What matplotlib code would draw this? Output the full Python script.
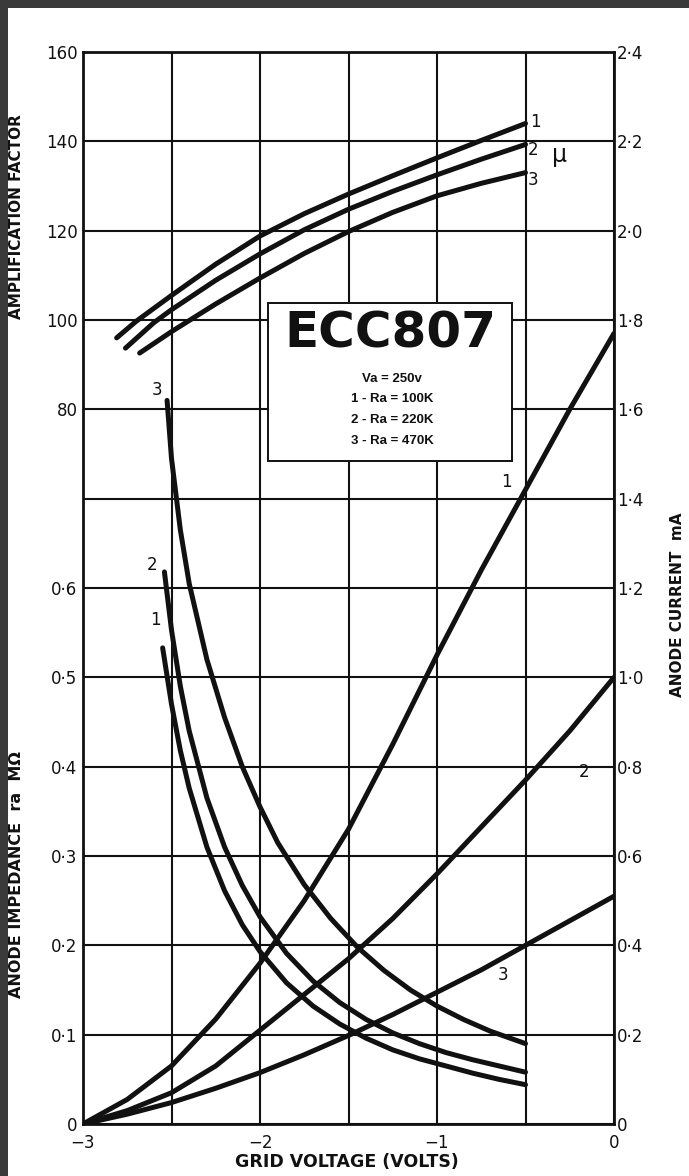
import matplotlib
matplotlib.use("Agg")
import matplotlib.pyplot as plt
from matplotlib.patches import Rectangle

# ---------------- data ----------------
# Amplification factor (mu) curves, left upper scale
mu1_x = [-2.81, -2.7, -2.5, -2.25, -2.0, -1.75, -1.5, -1.25, -1.0, -0.75, -0.5]
mu1_y = [96.0, 99.7, 105.5, 112.5, 118.8, 123.8, 128.2, 132.3, 136.3, 140.2, 144.0]
mu2_x = [-2.76, -2.6, -2.5, -2.25, -2.0, -1.75, -1.5, -1.25, -1.0, -0.75, -0.5]
mu2_y = [93.7, 99.4, 102.3, 108.9, 114.8, 120.2, 124.8, 128.8, 132.5, 136.0, 139.3]
mu3_x = [-2.68, -2.5, -2.25, -2.0, -1.75, -1.5, -1.25, -1.0, -0.75, -0.5]
mu3_y = [92.6, 97.4, 103.6, 109.4, 114.9, 119.8, 124.1, 127.8, 130.6, 133.0]

# Anode impedance ra (MOhm), left lower scale
ra1_x = [-2.55, -2.50, -2.45, -2.40, -2.30, -2.20, -2.10, -2.00, -1.85, -1.70,
         -1.55, -1.40, -1.25, -1.10, -0.95, -0.80, -0.65, -0.50]
ra1_y = [0.533, 0.470, 0.418, 0.376, 0.310, 0.261, 0.223, 0.193, 0.158, 0.132,
         0.112, 0.096, 0.083, 0.073, 0.065, 0.057, 0.050, 0.044]
ra2_x = [-2.54, -2.50, -2.45, -2.40, -2.30, -2.20, -2.10, -2.00, -1.85, -1.70,
         -1.55, -1.40, -1.25, -1.10, -0.95, -0.80, -0.65, -0.50]
ra2_y = [0.618, 0.553, 0.490, 0.440, 0.365, 0.310, 0.267, 0.232, 0.191, 0.160,
         0.136, 0.117, 0.102, 0.090, 0.080, 0.072, 0.065, 0.058]
ra3_x = [-2.525, -2.50, -2.45, -2.40, -2.30, -2.20, -2.10, -2.00, -1.90, -1.75,
         -1.60, -1.45, -1.30, -1.15, -1.00, -0.85, -0.70, -0.50]
ra3_y = [0.810, 0.745, 0.665, 0.605, 0.520, 0.455, 0.400, 0.355, 0.315, 0.268,
         0.230, 0.198, 0.172, 0.150, 0.132, 0.117, 0.104, 0.090]

# Anode current (mA), right scale
cur1_x = [-3, -2.75, -2.5, -2.25, -2.0, -1.75, -1.5, -1.25, -1.0, -0.75, -0.5, -0.25, 0]
cur1_y = [0, 0.055, 0.13, 0.235, 0.36, 0.50, 0.66, 0.85, 1.05, 1.24, 1.42, 1.60, 1.77]
cur2_x = [-3, -2.75, -2.5, -2.25, -2.0, -1.75, -1.5, -1.25, -1.0, -0.75, -0.5, -0.25, 0]
cur2_y = [0, 0.03, 0.07, 0.13, 0.21, 0.29, 0.37, 0.46, 0.56, 0.665, 0.77, 0.88, 1.0]
cur3_x = [-3, -2.75, -2.5, -2.25, -2, -1.75, -1.49, -1.25, -1, -0.75, -0.5, -0.25, 0]
cur3_y = [0, 0.022, 0.048, 0.08, 0.115, 0.155, 0.2, 0.245, 0.295, 0.345, 0.4, 0.455, 0.51]

x_ticks = [-3, -2.5, -2, -1.5, -1, -0.5, 0]
x_labels = ["\u22123", "", "\u22122", "", "\u22121", "", "0"]
cur_ticks = [0, 0.2, 0.4, 0.6, 0.8, 1.0, 1.2, 1.4, 1.6, 1.8, 2.0, 2.2, 2.4]
cur_labels = ["0", "0\u00b72", "0\u00b74", "0\u00b76", "0\u00b78", "1\u00b70", "1\u00b72",
              "1\u00b74", "1\u00b76", "1\u00b78", "2\u00b70", "2\u00b72", "2\u00b74"]
mu_ticks = [80, 100, 120, 140, 160]
mu_labels = ["80", "100", "120", "140", "160"]
ra_ticks = [0, 0.1, 0.2, 0.3, 0.4, 0.5, 0.6]
ra_labels = ["0", "0\u00b71", "0\u00b72", "0\u00b73", "0\u00b74", "0\u00b75", "0\u00b76"]

title = "ECC807"
info_lines = ["Va = 250v", "1 - Ra = 100K", "2 - Ra = 220K", "3 - Ra = 470K"]

# ---------------- figure ----------------
W, H = 689, 1176
fig = plt.figure(figsize=(W / 100, H / 100), dpi=100)
fig.patch.set_facecolor("white")

def px(x, y):
    return x / W, 1 - y / H

# scan border (dark band top and left)
fig.add_artist(Rectangle((0, 1 - 8 / H), 1, 8 / H, transform=fig.transFigure,
                         facecolor="#3a3a3a", edgecolor="none", zorder=0))
fig.add_artist(Rectangle((0, 0), 8 / W, 1, transform=fig.transFigure,
                         facecolor="#3a3a3a", edgecolor="none", zorder=0))

L, T, R, B = 83, 52, 614, 1124
ax = fig.add_axes([L / W, 1 - B / H, (R - L) / W, (B - T) / H])
ax.set_xlim(-3, 0)
ax.set_ylim(0, 2.4)

ink = "#111111"
tick_font = dict(family="DejaVu Sans", size=12)

# twin axes for the two left-hand scales
ax_mu = ax.twinx()
ax_ra = ax.twinx()

# current axis = main axis, ticks on the right
ax.yaxis.tick_right()
ax.set_yticks(cur_ticks)
ax.set_yticklabels(cur_labels, **tick_font)
ax.tick_params(axis="y", which="both", left=False, labelleft=False, right=True,
               labelright=True, length=0, pad=2, colors=ink)
ax.set_xticks(x_ticks)
ax.set_xticklabels(x_labels, **tick_font)
ax.tick_params(axis="x", length=0, pad=7, colors=ink)
ax.grid(True, color=ink, linewidth=1.5)
ax.set_axisbelow(True)
for s in ax.spines.values():
    s.set_linewidth(2.0)
    s.set_color(ink)

# mu axis (left, upper)
ax_mu.set_ylim(-80, 160)
ax_mu.set_yticks(mu_ticks)
ax_mu.set_yticklabels(mu_labels, **tick_font)
ax_mu.tick_params(axis="y", left=True, labelleft=True, right=False, labelright=False,
                  length=0, pad=4, colors=ink)
for s in ax_mu.spines.values():
    s.set_visible(False)

# ra axis (left, lower)
ax_ra.set_ylim(0, 1.2)
ax_ra.set_yticks(ra_ticks)
ax_ra.set_yticklabels(ra_labels, **tick_font)
ax_ra.tick_params(axis="y", left=True, labelleft=True, right=False, labelright=False,
                  length=0, pad=4, colors=ink)
for s in ax_ra.spines.values():
    s.set_visible(False)

lw = 3.6
kw = dict(color=ink, linewidth=lw, solid_capstyle="round", solid_joinstyle="round", zorder=5)
for xs, ys in [(mu1_x, mu1_y), (mu2_x, mu2_y), (mu3_x, mu3_y)]:
    ax_mu.plot(xs, ys, **kw)
for xs, ys in [(ra1_x, ra1_y), (ra2_x, ra2_y), (ra3_x, ra3_y)]:
    ax_ra.plot(xs, ys, **kw)
for xs, ys in [(cur1_x, cur1_y), (cur2_x, cur2_y), (cur3_x, cur3_y)]:
    ax.plot(xs, ys, **kw)

# info box
ax.add_patch(Rectangle((-1.955, 1.484), 1.379, 0.354, facecolor="white",
                       edgecolor=ink, linewidth=1.4, zorder=4))
fig.text(*px(390, 334), title, ha="center", va="center", family="DejaVu Sans",
         weight="bold", size=36, color=ink, zorder=10)
for i, line in enumerate(info_lines):
    fig.text(*px(392, 379 + i * 20.5), line, ha="center", va="center",
             family="Liberation Sans", weight="bold", size=9.5, color=ink, zorder=10)

# curve labels
lab = dict(ha="center", va="center", family="DejaVu Sans", size=12, color=ink, zorder=10)
for (x, y, s) in [(535, 122, "1"), (533, 150, "2"), (533, 180, "3"),
                  (157, 390, "3"), (152, 565, "2"), (155, 620, "1"),
                  (506, 482, "1"), (584, 772, "2"), (503, 975, "3")]:
    fig.text(*px(x, y), s, **lab)
fig.text(*px(560, 155), "\u03bc", ha="center", va="center", family="DejaVu Sans",
         size=17, color=ink, zorder=10)

# axis titles
tfont = dict(family="DejaVu Sans", weight="bold", color=ink)
fig.text(*px(17, 217), "AMPLIFICATION FACTOR", rotation=90, ha="center", va="center",
         size=11, **tfont)
fig.text(*px(17, 875), "ANODE IMPEDANCE  ra  M\u03a9", rotation=90, ha="center", va="center",
         size=11.5, **tfont)
fig.text(*px(678, 605), "ANODE CURRENT  mA", rotation=90, ha="center", va="center",
         size=11, **tfont)
fig.text(*px(347, 1162), "GRID VOLTAGE (VOLTS)", ha="center", va="center",
         size=12.5, **tfont)

fig.savefig("out.png", dpi=100, facecolor="white")
